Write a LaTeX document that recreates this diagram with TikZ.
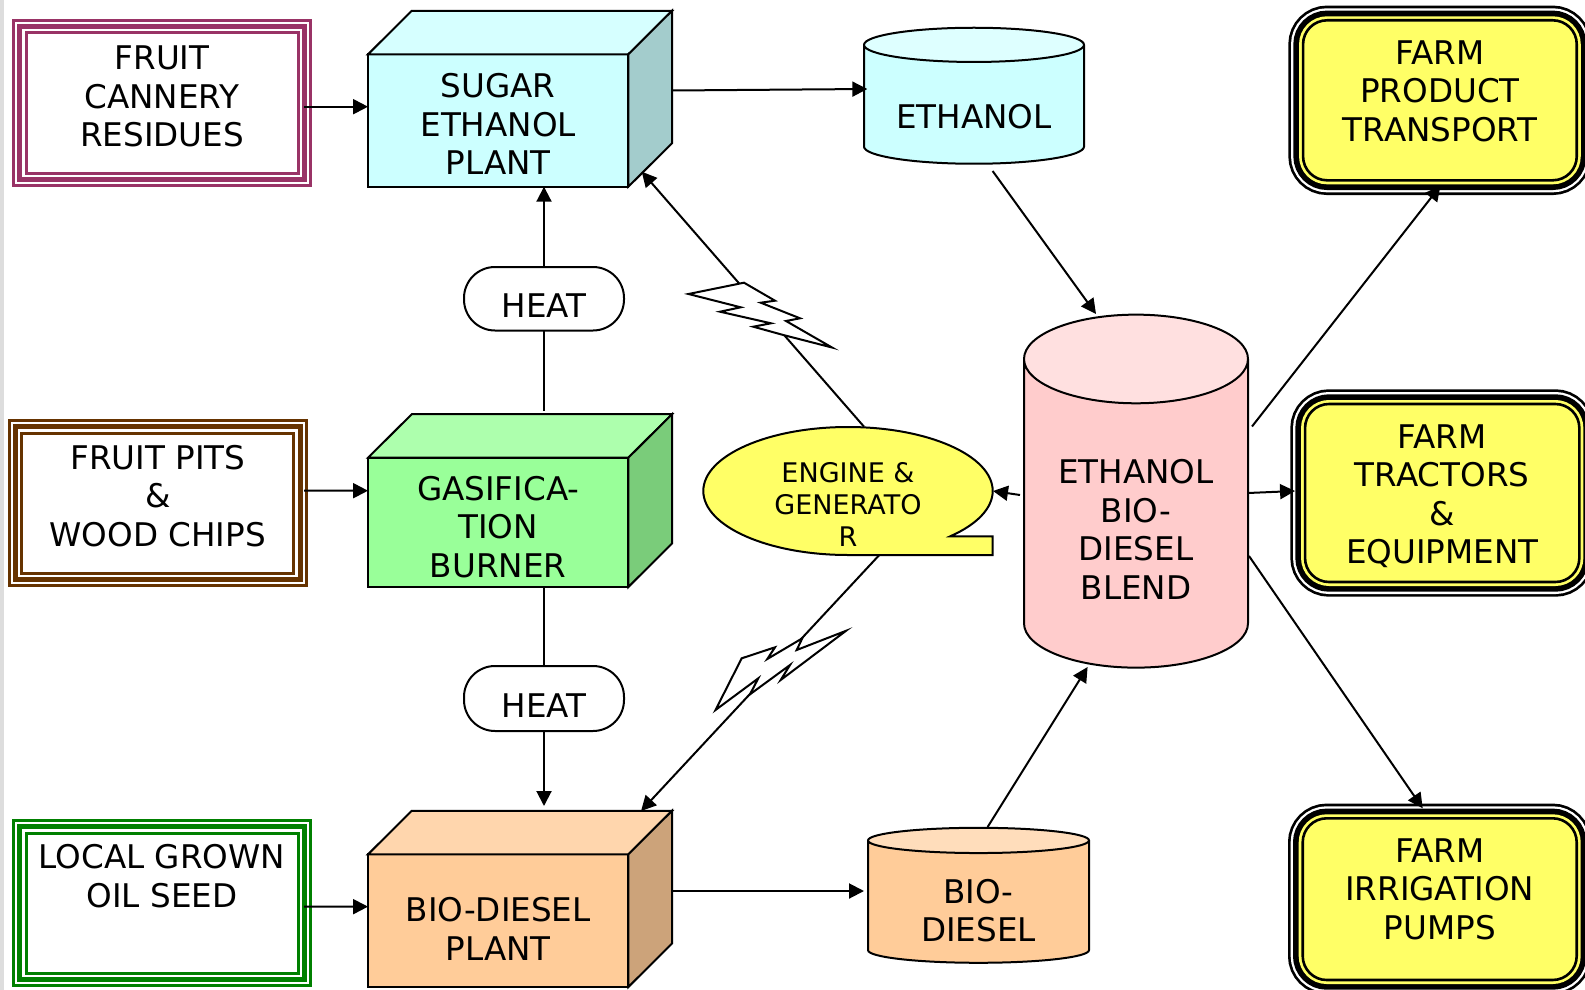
\documentclass[tikz,border=0pt]{standalone}
\usepackage{fontspec}
\setmainfont{DejaVu Sans}
\usetikzlibrary{arrows.meta,calc,shapes.geometric}

\definecolor{ringplum}{HTML}{993366}
\definecolor{ringbrown}{HTML}{663300}
\definecolor{ringgreen}{HTML}{008000}
\definecolor{farmyellow}{HTML}{FFFF66}
\definecolor{stripgray}{HTML}{DDDDDD}
\definecolor{sugarfront}{HTML}{CCFFFF}
\definecolor{sugartop}{HTML}{D6FFFF}
\definecolor{sugarside}{HTML}{A3CCCC}
\definecolor{gasfront}{HTML}{99FF99}
\definecolor{gastop}{HTML}{ADFFAD}
\definecolor{gasside}{HTML}{7ACC7A}
\definecolor{oilfront}{HTML}{FFCC99}
\definecolor{oiltop}{HTML}{FFD6AD}
\definecolor{oilside}{HTML}{CCA37A}
\definecolor{ethtop}{HTML}{DEFFFF}
\definecolor{blendbody}{HTML}{FFCCCC}
\definecolor{blendtop}{HTML}{FFE0E0}
\definecolor{oilend}{HTML}{FFDDBB}

% extra room above or below the lines moves the text inside its node
\newcommand{\pushdn}[1]{\rule{0pt}{#1pt}}
\newcommand{\pushup}[1]{\rule[-#1pt]{0pt}{0pt}}

\tikzset{
  basetext/.style={font=\fontsize{32.6}{38.5}\selectfont, align=center, inner sep=0pt, outer sep=0pt},
  feedbox/.style={basetext, minimum width=272pt, minimum height=140pt, draw=#1, line width=3pt, fill=white,
    preaction={draw=#1, line width=28pt},
    preaction={draw=white, line width=22pt},
    preaction={draw=#1, line width=17.4pt},
    preaction={draw=white, line width=8pt}},
  farmbox/.style={basetext, rounded corners=24pt, draw=black, line width=2.6pt, fill=farmyellow,
    preaction={draw=black, line width=29.4pt},
    preaction={draw=white, line width=24pt},
    preaction={draw=black, line width=19.4pt},
    preaction={draw=farmyellow, line width=8pt}},
  plantbox/.style={basetext, draw, line width=2pt, minimum width=260.3pt, fill=#1},
  heatbox/.style={basetext, draw, line width=2pt, fill=white, rounded corners=31pt, minimum width=160pt},
  tankbox/.style n args={2}{basetext, draw, line width=2pt, cylinder, shape border rotate=90,
    cylinder uses custom fill, cylinder body fill=#1, cylinder end fill=#2},
  conn/.style={line width=2pt},
  arrow/.style={conn, -{Triangle[length=15pt,width=15pt]}},
  bolt/.style={draw, line width=2pt, fill=white}
}

\begin{document}
\begin{tikzpicture}[x=1pt,y=-1pt]
\useasboundingbox (0,0) rectangle (1585,990);
\fill[stripgray] (0,0) rectangle (4,990);

% feedstock boxes
\node[feedbox=ringplum] (fruit) at (162,103) {FRUIT\\CANNERY\\RESIDUES\pushup{13}};
\node[feedbox=ringbrown] (pits) at (157.8,503) {FRUIT PITS\\\&\\WOOD CHIPS\pushup{15}};
\node[feedbox=ringgreen] (seed) at (162,903) {LOCAL GROWN\\OIL SEED\pushup{54}};

% plants
\node[plantbox=sugarfront, minimum height=132.4pt] (sugar) at (498.2,120.5) {\pushdn{31}SUGAR\\ETHANOL\\PLANT};
\node[plantbox=gasfront, minimum height=129.3pt] (gas) at (498.2,522.35) {\pushdn{33}GASIFICA-\\TION\\BURNER};
\node[plantbox=oilfront, minimum height=132.7pt] (bio) at (498.2,920.65) {\pushdn{41}BIO-DIESEL\\PLANT};
\foreach \cube/\topc/\sidec in {sugar/sugartop/sugarside, gas/gastop/gasside, bio/oiltop/oilside} {
  \draw[line width=2pt, fill=\topc] (\cube.north west) -- ++(43.7,-43.5) -- ($(\cube.north east)+(43.7,-43.5)$) -- (\cube.north east) -- cycle;
  \draw[line width=2pt, fill=\sidec] (\cube.north east) -- ++(43.7,-43.5) -- ($(\cube.south east)+(43.7,-43.5)$) -- (\cube.south east) -- cycle;
}

% heat
\node[heatbox, minimum height=63.5pt] (heatup) at (544,298.75) {\pushdn{38}HEAT};
\node[heatbox, minimum height=65pt] (heatdn) at (544,698.5) {\pushdn{38}HEAT};

% tanks
\node[tankbox={sugarfront}{ethtop}, minimum width=220pt, minimum height=136pt, aspect=0.22] (eth) at (974,104.8) {\pushdn{48}ETHANOL};
\node[tankbox={oilfront}{oilend}, minimum width=221pt, minimum height=135pt, aspect=0.22] (dsl) at (978.5,902.1) {\pushdn{41}BIO-\\DIESEL};
\node[tankbox={blendbody}{blendtop}, minimum width=224pt, minimum height=353pt, aspect=0.57] (blend) at (1136,513.8) {\pushdn{55}ETHANOL\\BIO-\\DIESEL\\BLEND};

% farm uses
\node[farmbox, minimum width=273.7pt, minimum height=160pt] (product) at (1439.9,100.3) {FARM\\PRODUCT\\TRANSPORT\pushup{19}};
\node[farmbox, minimum width=274.3pt, minimum height=178pt] (tractor) at (1442.2,493) {\pushdn{30}FARM\\TRACTORS\\\&\\EQUIPMENT};
\node[farmbox, minimum width=274pt, minimum height=161.7pt] (pump) at (1439.7,899.15) {FARM\\IRRIGATION\\PUMPS\pushup{21}};

% engine outline, the text goes on top
\draw[line width=2pt, fill=farmyellow] (848,555) arc[start angle=90, end angle=405, x radius=144.7, y radius=64] -- (992.7,536.25) -- (992.7,555) -- cycle;
\node[basetext, font=\fontsize{27}{32}\selectfont] (engine) at (848,491) {\pushdn{46}ENGINE \&\\GENERATO\\R};

% connectors
\draw[arrow] ([xshift=6pt,yshift=-3.7pt]fruit.east) -- ([yshift=13.8pt]sugar.west);
\draw[arrow] ([xshift=10.3pt,yshift=12.3pt]pits.east) -- ([yshift=31.65pt]gas.west);
\draw[arrow] ([xshift=6pt,yshift=-3.7pt]seed.east) -- ([yshift=14pt]bio.west);
\draw[arrow] (heatup.north) -- ([xshift=45.8pt]sugar.south);
\draw[conn] ([xshift=45.8pt,yshift=46.7pt]gas.north) -- (heatup.south);
\draw[conn] ([xshift=45.8pt]gas.south) -- (heatdn.north);
\draw[arrow] (heatdn.south) -- ([xshift=45.8pt,yshift=48.3pt]bio.north);
\draw[arrow] ([xshift=43.7pt,yshift=30pt]sugar.east) -- ([xshift=-106.7pt,yshift=15.8pt]eth.center);
\draw[arrow] ([xshift=18.6pt,yshift=-66.2pt]eth.center) -- ([xshift=-40pt,yshift=199.8pt]blend.center);
\draw[arrow] ([xshift=-116pt,yshift=18.8pt]blend.center) -- ([xshift=145pt]engine.center);
\draw[arrow] ([xshift=16pt,yshift=64.3pt]engine.center) -- ([xshift=13.4pt,yshift=15pt]sugar.south east);
\draw[arrow] ([xshift=31.3pt,yshift=-64pt]engine.center) -- ([xshift=12.7pt,yshift=43.3pt]bio.north east);
\draw[arrow] ([xshift=43.7pt,yshift=29.65pt]bio.east) -- ([xshift=-114.5pt,yshift=11.1pt]dsl.center);
\draw[arrow] ([xshift=9.1pt,yshift=75.1pt]dsl.center) -- ([xshift=-48.4pt,yshift=-153.2pt]blend.center);
\draw[arrow] ([xshift=116pt,yshift=87.3pt]blend.center) -- ([xshift=0.5pt,yshift=-5.5pt]product.south);
\draw[arrow] ([xshift=112pt,yshift=20.8pt]blend.center) -- ([xshift=-10pt,yshift=2pt]tractor.west);
\draw[arrow] ([xshift=113pt,yshift=-42.2pt]blend.center) -- ([xshift=-17pt,yshift=10pt]pump.north);

% lightning
\draw[bolt] (688.5,294) -- (744,282.7) -- (775,300.7) -- (760.7,302.7) -- (800,318.3) -- (786,321) -- (832,347.5) -- (783.3,335) -- (753.3,326.7) -- (771,323.3) -- (720,311.7) -- (740.7,307.3) -- cycle;
\draw[bolt] (846,630.8) -- (796.7,650) -- (802.3,638.3) -- (767.3,659) -- (775,647.3) -- (741.7,658.3) -- (715.5,710) -- (758.3,678.3) -- (750,694.3) -- (790,665) -- (780.7,680) -- cycle;
\end{tikzpicture}
\end{document}
